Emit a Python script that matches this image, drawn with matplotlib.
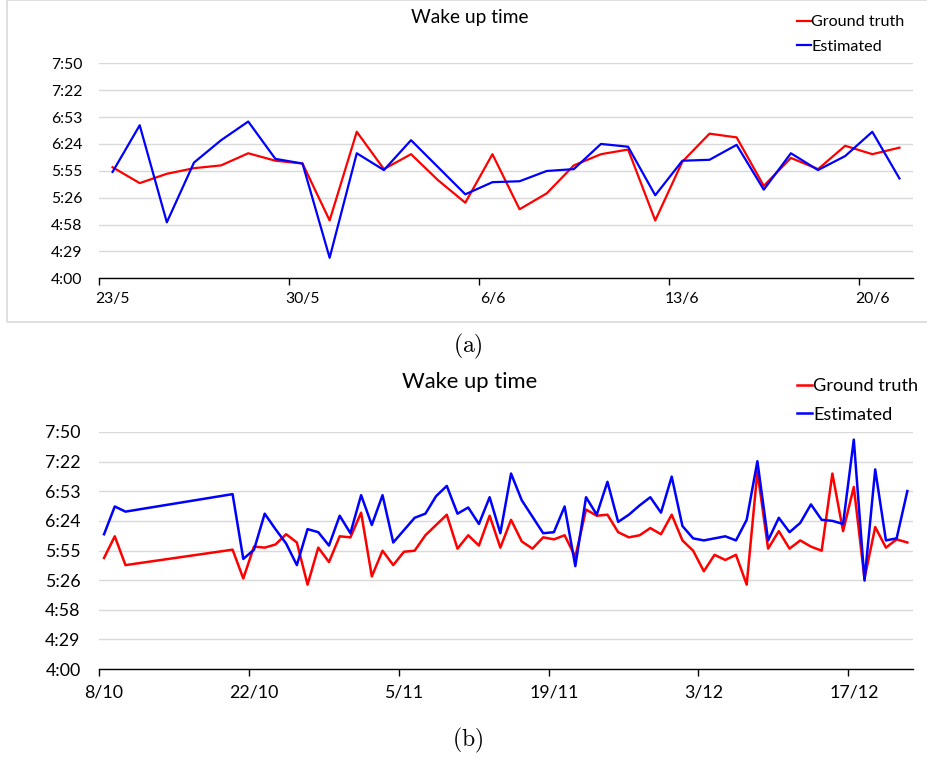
import pandas as pd
import matplotlib
matplotlib.use('Agg')
import matplotlib.pyplot as plt
from matplotlib.patches import Rectangle

plt.rcParams['font.family'] = ['Lato', 'DejaVu Sans']
plt.rcParams['mathtext.fontset'] = 'cm'

# (a) 23/5 - 21/6
dates_a = pd.date_range('2019-05-23', '2019-06-21')
truth_a = ['5:59', '5:42', '5:52', '5:58', '6:01', '6:14', '6:06', '6:03', '5:02', '6:37',
           '5:57', '6:13', '5:45', '5:21', '6:13', '5:14', '5:31', '6:01', '6:13', '6:18',
           '5:02', '6:05', '6:35', '6:31', '5:39', '6:09', '5:57', '6:22', '6:13', '6:20']
est_a = ['5:54', '6:44', '5:00', '6:04', '6:28', '6:48', '6:08', '6:03', '4:22', '6:14',
         '5:56', '6:28', '5:59', '5:30', '5:43', '5:44', '5:55', '5:57', '6:24', '6:21',
         '5:29', '6:06', '6:07', '6:23', '5:35', '6:14', '5:56', '6:11', '6:37', '5:47']

# (b) 8/10 - 22/12, with a gap from 11/10 to 19/10
dates_b = pd.date_range('2019-10-08', '2019-10-10').append(pd.date_range('2019-10-20', '2019-12-22'))
truth_b = ['5:48', '6:09', '5:41',
           '5:56', '5:28', '5:59', '5:58', '6:01', '6:11', '6:03', '5:22', '5:58', '5:44',
           '6:09', '6:08', '6:32', '5:30', '5:55', '5:41', '5:54', '5:55', '6:10', '6:20',
           '6:30', '5:57', '6:10', '6:00', '6:29', '5:58', '6:25', '6:04', '5:57', '6:08',
           '6:06', '6:10', '5:49', '6:35', '6:29', '6:30', '6:13', '6:08', '6:10', '6:17',
           '6:11', '6:30', '6:05', '5:55', '5:35', '5:51', '5:46', '5:51', '5:22', '7:12',
           '5:57', '6:14', '5:57', '6:05', '5:59', '5:55', '7:10', '6:14', '6:57', '5:28',
           '6:18', '5:58', '6:06', '6:03']
est_b = ['6:11', '6:38', '6:33',
         '6:50', '5:47', '5:56', '6:31', '6:16', '6:02', '5:41', '6:16', '6:13', '6:00',
         '6:29', '6:12', '6:49', '6:20', '6:49', '6:03', '6:15', '6:27', '6:31', '6:48',
         '6:58', '6:31', '6:37', '6:21', '6:47', '6:12', '7:10', '6:44', '6:28', '6:12',
         '6:13', '6:38', '5:40', '6:47', '6:30', '7:02', '6:23', '6:30', '6:39', '6:47',
         '6:32', '7:07', '6:19', '6:07', '6:05', '6:07', '6:09', '6:05', '6:25', '7:22',
         '6:05', '6:27', '6:13', '6:22', '6:40', '6:25', '6:24', '6:21', '7:43', '5:26',
         '7:14', '6:05', '6:07', '6:53']


def to_min(vals):
    return [int(v.split(':')[0]) * 60 + int(v.split(':')[1]) for v in vals]


def fmt(m):
    m = int(round(m))
    return f'{m // 60}:{m % 60:02d}'


W, H = 928, 760
fig = plt.figure(figsize=(W / 100, H / 100), dpi=100)


def px(x0, y0, x1, y1):
    return [x0 / W, 1 - y1 / H, (x1 - x0) / W, (y1 - y0) / H]


def wake_plot(rect, dates, truth, est, start, end, step, fs, lw, title_y, tfs, leg_xy, leg_sp, ypad, xpad):
    ax = fig.add_axes(rect)
    x = dates + pd.Timedelta(hours=12)
    ax.plot(x, to_min(truth), color='#ff0000', lw=lw, label='Ground truth')
    ax.plot(x, to_min(est), color='#0000ff', lw=lw, label='Estimated')

    yt = [240 + 28.8 * k for k in range(9)]
    ax.set_ylim(240, 470.4)
    ax.set_yticks(yt)
    ax.set_yticklabels([fmt(v) for v in yt])
    ax.grid(axis='y', color='#d9d9d9', lw=1.0)
    ax.set_axisbelow(True)

    lo, hi = pd.Timestamp(start), pd.Timestamp(end)
    ax.set_xlim(lo, hi)
    major = pd.date_range(lo, hi, freq=f'{step}D')
    ax.set_xticks(major)
    ax.set_xticklabels([''] * len(major))
    ax.set_xticks(major + pd.Timedelta(hours=12), minor=True)
    ax.set_xticklabels([f'{d.day}/{d.month}' for d in major], minor=True)
    ax.tick_params(axis='x', which='major', length=5, width=1, color='black', direction='out')
    ax.tick_params(axis='x', which='minor', length=0, pad=xpad, labelsize=fs)
    ax.tick_params(axis='y', length=0, pad=ypad, labelsize=fs)
    for s in ['top', 'right', 'left']:
        ax.spines[s].set_visible(False)
    ax.spines['bottom'].set_color('black')
    ax.spines['bottom'].set_linewidth(1)

    fig.text(470 / W, 1 - title_y / H, 'Wake up time', ha='center', va='center', fontsize=tfs)
    ax.legend(loc='upper left', bbox_to_anchor=(leg_xy[0] / W, 1 - leg_xy[1] / H),
              bbox_transform=fig.transFigure, frameon=False, fontsize=fs + 0.3,
              handlelength=0.85, handletextpad=0.05, borderpad=0, borderaxespad=0,
              labelspacing=leg_sp)
    return ax


# (a)
fig.patches.append(Rectangle((7 / W, 1 - 322 / H), 1, 322 / H, transform=fig.transFigure,
                             fill=False, edgecolor='#d9d9d9', lw=1.2))
wake_plot(px(99, 63.3, 913, 278.3), dates_a, truth_a, est_a, '2019-05-23', '2019-06-22', 7,
          11.3, 1.6, 18, 13.8, (797, 15), 0.63, 12, 10)
fig.text(468 / W, 1 - 346 / H, r'$\mathrm{(a)}$', ha='center', va='center', fontsize=17)

# (b)
wake_plot(px(98.7, 432, 912.7, 669), dates_b, truth_b, est_b, '2019-10-08', '2019-12-23', 14,
          12.8, 1.8, 382, 15.8, (797, 378), 0.7, 13, 11)
fig.text(468 / W, 1 - 740 / H, r'$\mathrm{(b)}$', ha='center', va='center', fontsize=17)

fig.savefig('out.png', dpi=100)
